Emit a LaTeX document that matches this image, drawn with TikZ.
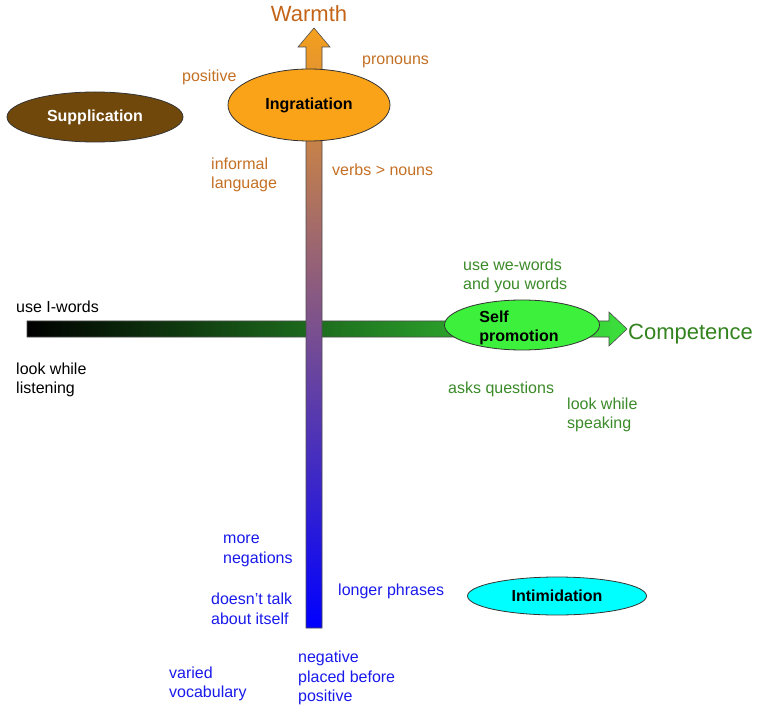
\documentclass[tikz,border=0pt]{standalone}
\usepackage{fontspec}
\setmainfont{Liberation Sans}
\usetikzlibrary{shapes.geometric}
\definecolor{ingc}{RGB}{250,162,24}
\definecolor{supc}{RGB}{112,72,12}
\definecolor{selfc}{RGB}{60,240,60}
\definecolor{intc}{RGB}{0,255,255}
\definecolor{orangetxt}{RGB}{196,112,36}
\definecolor{warmc}{RGB}{196,100,24}
\definecolor{greentxt}{RGB}{58,138,40}
\definecolor{compc}{RGB}{50,130,30}
\definecolor{bluetxt}{RGB}{25,25,235}
\definecolor{hgreen}{RGB}{60,225,60}
\definecolor{vorange}{RGB}{245,160,30}
\begin{document}
\begin{tikzpicture}[x=1pt,y=-1pt,
  lbl/.style={anchor=west, inner sep=0, align=left, font=\fontsize{16}{19.5}\selectfont},
  oval/.style={ellipse, draw=black!80, line width=0.8pt, inner sep=0, font=\bfseries\fontsize{16}{19.5}\selectfont},
  axis/.style={draw=black!70, line width=0.6pt}]
\useasboundingbox (0,0) rectangle (765,708);
% horizontal axis (competence)
\shade[axis, left color=black, right color=hgreen]
  (27,321) -- (609,321) -- (609,312) -- (627,329) -- (609,346) -- (609,337) -- (27,337) -- cycle;
% vertical axis (warmth)
\shade[axis, top color=vorange, bottom color=blue]
  (306,628) -- (306,47) -- (298,47) -- (314,28) -- (330,47) -- (322,47) -- (322,628) -- cycle;
% axis titles
\node[anchor=base, inner sep=0, font=\fontsize{22}{24}\selectfont, text=warmc] (warmth) at (309,22) {Warmth};
\node[anchor=west, inner sep=0, font=\fontsize{22}{24}\selectfont, text=compc] (comp) at (628,334) {Competence};
% ellipses
\node[oval, fill=ingc, minimum width=162pt, minimum height=72pt] (ingr) at (309,105) {Ingratiation};
\node[oval, fill=supc, text=white, minimum width=176pt, minimum height=50pt] (supp) at (95,117) {Supplication};
\node[oval, fill=selfc, minimum width=155pt, minimum height=50pt] (selfp) at (522,325) {};
\node[inner sep=0, align=left, font=\bfseries\fontsize{16}{19.5}\selectfont] (selft) at (519,328) {Self\\ promotion};
\node[oval, fill=intc, minimum width=179pt, minimum height=38pt] (intim) at (557,596) {Intimidation};
% orange labels
\node[lbl, text=orangetxt] (pos) at (182,77) {positive};
\node[lbl, text=orangetxt] (pron) at (362,62) {pronouns};
\node[lbl, text=orangetxt] (inf) at (211,175) {informal\\ language};
\node[lbl, text=orangetxt] (verbs) at (332,170) {verbs > nouns};
% green labels
\node[lbl, text=greentxt] (wew) at (463,276) {use we-words\\ and you words};
\node[lbl, text=greentxt] (askq) at (448,389) {asks questions};
\node[lbl, text=greentxt] (looks) at (567,415) {look while\\ speaking};
% black labels
\node[lbl] (iw) at (16,307) {use I-words};
\node[lbl] (lookl) at (16,380) {look while\\ listening};
% blue labels
\node[lbl, text=bluetxt] (neg) at (223,551) {more\\ negations};
\node[lbl, text=bluetxt] (itself) at (211,609) {doesn’t talk\\ about itself};
\node[lbl, text=bluetxt] (longp) at (338,591) {longer phrases};
\node[lbl, text=bluetxt] (vocab) at (169,684) {varied\\ vocabulary};
\node[lbl, text=bluetxt] (negpos) at (298,678) {negative\\ placed before\\ positive};
\end{tikzpicture}
\end{document}
